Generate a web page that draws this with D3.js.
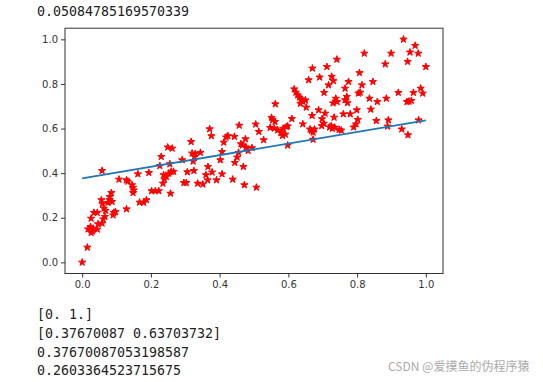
<!DOCTYPE html>
<html>
<head>
<meta charset="utf-8">
<script src="https://cdn.jsdelivr.net/npm/d3@7"></script>
<style>
  html, body { margin: 0; padding: 0; background: #fff; }
  svg { display: block; }
</style>
</head>
<body>
<svg id="chart" width="543" height="382"></svg>
<script>
// ---- data ----
const topText = "0.05084785169570339";
const bottomLines = [
  "[0. 1.]",
  "[0.37670087 0.63703732]",
  "0.37670087053198587",
  "0.2603364523715675"
];
const watermark = "CSDN @爱摸鱼的伪程序猿";

const xTicks = [0.0, 0.2, 0.4, 0.6, 0.8, 1.0];
const yTicks = [0.0, 0.2, 0.4, 0.6, 0.8, 1.0];

// fitted line endpoints
const lineX = [0, 1];
const lineY = [0.37670087, 0.63703732];

// scatter points
const pointsX = [
  0.000,0.015,0.017,0.024,0.026,0.032,0.026,0.034,0.044,0.044,0.046,0.030,0.058,0.056,0.059,0.063,0.068,0.066,0.061,0.080,0.085,0.080,0.075,0.087,0.092,0.097,0.090,0.058,
  0.107,0.129,0.133,0.129,0.145,0.148,0.150,0.148,0.162,0.167,0.179,0.187,0.194,0.202,0.213,0.223,0.230,0.226,0.237,0.235,0.245,0.239,0.249,0.262,0.257,0.255,0.259,0.266,0.252,0.296,0.303,
  0.317,0.320,0.329,0.327,0.325,0.323,0.291,0.306,0.336,0.351,0.344,0.360,0.365,0.366,0.371,0.376,0.378,0.391,0.402,0.407,0.407,0.412,0.419,0.424,0.438,0.443,0.444,0.451,0.455,0.457,0.462,0.466,0.469,0.472,0.475,0.477,0.483,0.494,0.505,0.507,0.514,0.528,
  0.551,0.554,0.547,0.559,0.561,0.562,0.569,0.578,0.583,0.591,0.598,0.594,0.598,0.610,0.585,
  0.617,0.622,0.627,0.632,0.637,0.635,0.642,0.650,0.652,0.642,0.659,0.670,0.669,0.663,0.667,0.672,0.676,0.672,0.688,0.691,0.698,0.697,0.703,0.707,0.704,0.712,0.717,0.726,0.731,0.741,0.730,0.738,0.742,0.720,0.725,0.728,0.735,0.733,0.748,0.754,0.760,0.780,0.765,0.770,0.775,0.772,0.765,0.790,0.797,0.802,0.799,0.804,0.809,0.814,0.807,0.821,
  0.836,0.840,0.846,0.856,0.859,0.882,0.885,0.889,0.891,0.899,0.920,0.930,0.935,0.945,0.951,0.958,0.947,0.948,0.954,0.964,0.969,0.978,0.979,0.985,0.991,1.000
];
const pointsY = [
  0.000,0.067,0.149,0.160,0.133,0.152,0.197,0.223,0.223,0.148,0.172,0.140,0.411,0.280,0.262,0.242,0.232,0.205,0.194,0.294,0.312,0.280,0.268,0.272,0.223,0.227,0.212,0.175,
  0.372,0.369,0.363,0.239,0.347,0.336,0.324,0.312,0.396,0.269,0.268,0.280,0.402,0.320,0.320,0.320,0.474,0.433,0.392,0.354,0.384,0.372,0.516,0.511,0.309,0.441,0.407,0.407,0.399,0.357,0.357,
  0.541,0.489,0.487,0.474,0.411,0.453,0.459,0.405,0.354,0.350,0.492,0.392,0.369,0.429,0.598,0.567,0.404,0.369,0.459,0.496,0.396,0.538,0.561,0.567,0.372,0.564,0.447,0.471,0.492,0.614,0.531,0.525,0.429,0.347,0.553,0.517,0.501,0.513,0.619,0.336,0.586,0.549,
  0.649,0.638,0.604,0.601,0.631,0.710,0.593,0.581,0.568,0.574,0.611,0.608,0.525,0.644,0.600,
  0.777,0.762,0.750,0.740,0.732,0.712,0.722,0.727,0.695,0.620,0.818,0.870,0.658,0.597,0.590,0.583,0.597,0.551,0.683,0.830,0.643,0.612,0.623,0.668,0.761,0.877,0.795,0.833,0.814,0.910,0.714,0.735,0.720,0.606,0.612,0.600,0.605,0.650,0.595,0.592,0.665,0.665,0.780,0.743,0.810,0.715,0.728,0.606,0.620,0.640,0.683,0.758,0.762,0.795,0.850,0.937,
  0.735,0.686,0.810,0.635,0.720,0.889,0.735,0.610,0.638,0.937,0.761,0.597,1.000,0.720,0.722,0.725,0.900,0.571,0.942,0.761,0.972,0.937,0.638,0.780,0.758,0.877
];

// ---- drawing ----
const svg = d3.select("#chart");
const plot = { left: 65, right: 443, top: 28.2, bottom: 273.5 };

const x = d3.scaleLinear().domain([-0.05, 1.05]).range([plot.left, plot.right]);
const y = d3.scaleLinear().domain([-0.05, 1.05]).range([plot.bottom, plot.top]);

const mono = "'DejaVu Sans Mono', 'Liberation Mono', monospace";

// top text output
svg.append("text")
  .attr("x", 37).attr("y", 16)
  .attr("font-family", mono).attr("font-size", 13.3)
  .attr("fill", "#222")
  .text(topText);

// axes
const xAxis = d3.axisBottom(x).tickValues(xTicks).tickFormat(d3.format(".1f")).tickSizeInner(4).tickSizeOuter(0).tickPadding(3);
const yAxis = d3.axisLeft(y).tickValues(yTicks).tickFormat(d3.format(".1f")).tickSizeInner(4).tickSizeOuter(0).tickPadding(3);

const gx = svg.append("g").attr("transform", `translate(0,${plot.bottom})`).call(xAxis);
const gy = svg.append("g").attr("transform", `translate(${plot.left},0)`).call(yAxis);
[gx, gy].forEach(g => {
  g.select(".domain").remove();
  g.selectAll(".tick line").attr("stroke", "#333").attr("stroke-width", 1);
  g.selectAll(".tick text")
    .attr("font-family", "'DejaVu Sans', sans-serif")
    .attr("font-size", 10)
    .attr("fill", "#333");
});

// scatter stars
const starSym = d3.symbol().type(d3.symbolStar).size(16);
svg.append("g")
  .selectAll("path")
  .data(pointsX.map((v, i) => [v, pointsY[i]]))
  .join("path")
  .attr("d", starSym)
  .attr("transform", d => `translate(${x(d[0])},${y(d[1])})`)
  .attr("fill", "#ff0000")
  .attr("stroke", "#ff0000")
  .attr("stroke-width", 1)
  .attr("stroke-linejoin", "miter");

// fitted line
svg.append("path")
  .datum(lineX.map((v, i) => [v, lineY[i]]))
  .attr("d", d3.line().x(d => x(d[0])).y(d => y(d[1])))
  .attr("fill", "none")
  .attr("stroke", "#1f77b4")
  .attr("stroke-width", 1.8);

// frame
svg.append("rect")
  .attr("x", plot.left).attr("y", plot.top)
  .attr("width", plot.right - plot.left).attr("height", plot.bottom - plot.top)
  .attr("fill", "none").attr("stroke", "#333").attr("stroke-width", 1);

// bottom printed output
svg.append("g").selectAll("text")
  .data(bottomLines)
  .join("text")
  .attr("x", 37)
  .attr("y", (d, i) => 319 + i * 18.8)
  .attr("font-family", mono).attr("font-size", 13.3)
  .attr("fill", "#222")
  .text(d => d);

// watermark
svg.append("text")
  .attr("x", 388).attr("y", 371)
  .attr("font-family", "'Noto Sans CJK SC', 'Noto Sans', sans-serif")
  .attr("font-size", 12)
  .attr("fill", "#aaa")
  .text(watermark);
</script>
</body>
</html>
